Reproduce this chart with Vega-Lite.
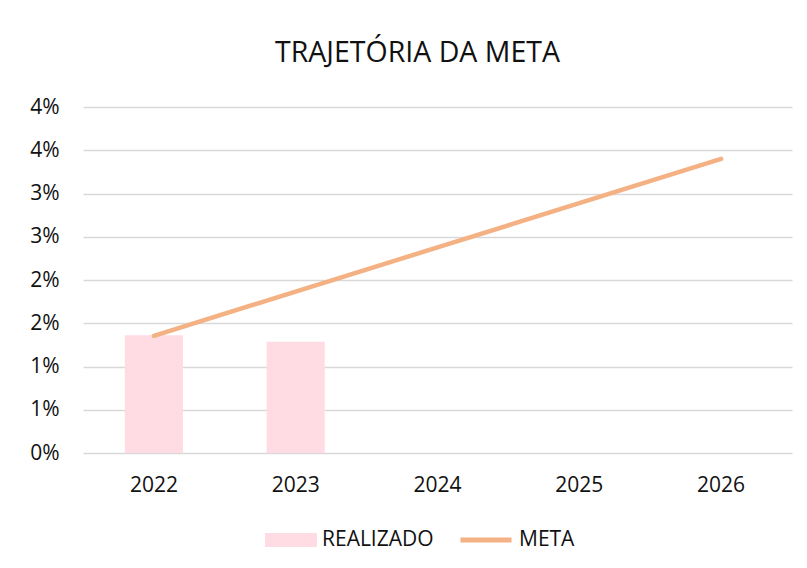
{
  "$schema": "https://vega.github.io/schema/vega-lite/v6.json",
  "autosize": "none",
  "width": 709,
  "height": 346,
  "padding": {"left": 83, "top": 107, "right": 15, "bottom": 115},
  "background": "#ffffff",
  "title": {
    "text": "TRAJETÓRIA DA META",
    "anchor": "middle",
    "frame": "group",
    "dx": -20,
    "offset": 29,
    "fontSize": 28.5,
    "font": "Open Sans",
    "fontWeight": "normal",
    "color": "#111111"
  },
  "data": {
    "values": [
      {"ano": "2022", "serie": "REALIZADO", "valor": 0.0136},
      {"ano": "2023", "serie": "REALIZADO", "valor": 0.01285},
      {"ano": "2022", "serie": "META", "valor": 0.01355},
      {"ano": "2023", "serie": "META", "valor": 0.01866},
      {"ano": "2024", "serie": "META", "valor": 0.02377},
      {"ano": "2025", "serie": "META", "valor": 0.02888},
      {"ano": "2026", "serie": "META", "valor": 0.034}
    ]
  },
  "encoding": {
    "x": {
      "field": "ano",
      "type": "ordinal",
      "scale": {"domain": ["2022", "2023", "2024", "2025", "2026"], "paddingInner": 0.59, "paddingOuter": 0.295},
      "axis": {
        "title": null,
        "domain": false,
        "ticks": false,
        "labelAngle": 0,
        "labelPadding": 21,
        "labelFontSize": 21,
        "labelFont": "Open Sans",
        "labelColor": "#111111"
      }
    },
    "y": {
      "field": "valor",
      "type": "quantitative",
      "scale": {"domain": [0, 0.04], "nice": false, "zero": true},
      "axis": {
        "title": null,
        "values": [0, 0.005, 0.01, 0.015, 0.02, 0.025, 0.03, 0.035, 0.04],
        "format": ".0%",
        "domain": false,
        "ticks": false,
        "labelPadding": 24,
        "labelFontSize": 21,
        "labelFont": "Open Sans",
        "labelColor": "#111111",
        "gridColor": "#d9d9d9",
        "gridWidth": 1.5
      }
    }
  },
  "layer": [
    {
      "transform": [{"filter": "datum.serie == 'REALIZADO'"}],
      "mark": {"type": "bar"},
      "encoding": {
        "fill": {
          "field": "serie",
          "type": "nominal",
          "scale": {"domain": ["REALIZADO"], "range": ["#ffdce3"]},
          "legend": {
            "title": null,
            "orient": "none",
            "legendX": 182,
            "legendY": 407,
            "padding": 0,
            "symbolType": "M-1,-0.27H1V0.27H-1Z",
            "symbolSize": 2704,
            "symbolStrokeWidth": 0,
            "labelOffset": 5,
            "labelFontSize": 21,
            "labelFont": "Open Sans",
            "labelColor": "#111111"
          }
        }
      }
    },
    {
      "transform": [{"filter": "datum.serie == 'META'"}],
      "mark": {"type": "line", "strokeWidth": 4.5, "strokeCap": "round"},
      "encoding": {
        "stroke": {
          "field": "serie",
          "type": "nominal",
          "scale": {"domain": ["META"], "range": ["#f4b183"]},
          "legend": {
            "title": null,
            "orient": "none",
            "legendX": 375,
            "legendY": 405,
            "padding": 0,
            "symbolType": "stroke",
            "symbolSize": 2601,
            "symbolStrokeWidth": 5,
            "labelOffset": 5,
            "labelFontSize": 21,
            "labelFont": "Open Sans",
            "labelColor": "#111111"
          }
        }
      }
    }
  ],
  "config": {
    "view": {"stroke": null}
  }
}
